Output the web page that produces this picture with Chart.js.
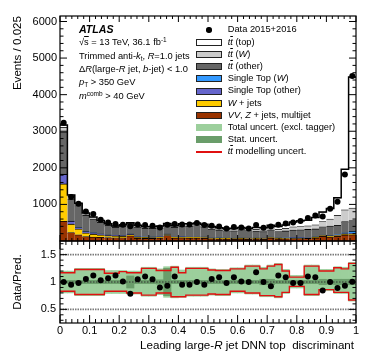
<!DOCTYPE html>
<html><head><meta charset="utf-8">
<script src="https://cdn.jsdelivr.net/npm/chart.js@4.4.1/dist/chart.umd.min.js"></script>
<style>
html,body{margin:0;padding:0;background:#fff;}
#wrap{position:relative;width:374px;height:359px;overflow:hidden;font-family:"Liberation Sans",Arial,Helvetica,sans-serif;color:#000;background:#fff;}
canvas{position:absolute;left:0;top:0;}
.t{position:absolute;white-space:pre;line-height:1;}
.ob{text-decoration:overline;}
.sub{font-size:0.7em;position:relative;top:0.35em;}
.sup{font-size:0.7em;position:relative;top:-0.45em;}
.sw{position:absolute;box-sizing:border-box;}
</style></head>
<body><div id="wrap">
<canvas id="cTop" width="374" height="359"></canvas>
<canvas id="cRat" width="374" height="359"></canvas>
<div id="ann"></div>
</div>
<script>
// ---------- bins (categories) ----------
const binEdges = Array.from({length: 41}, (_, i) => +(i * 0.025).toFixed(3));
const binCenters = binEdges.slice(0, 40).map((e, i) => (e + binEdges[i + 1]) / 2);

// ---------- top panel series (events / bin) ----------
const dataEvents = [3230,1200,1016,807,735,580,507,463,445,400, 452,436,417,371,444,463,452,452,490,436, 417,398,343,381,371,343,436,362,398,444, 480,507,545,627,698,670,880,1070,1820,4510];
const vvzMulti = [540,230,170,120,110,100,95,90,90,140, 75,70,70,80,150,80,85,80,80,75, 60,55,55,50,55,50,55,50,80,55, 60,65,65,70,80,130,110,130,160,170];
const wJets = [1020,230,155,95,75,60,50,45,40,35, 30,28,25,25,25,22,22,22,22,20, 18,18,16,16,15,15,15,15,15,15, 15,16,16,16,17,18,20,20,22,25];
const singleTopOther = [260,80,45,45,35,30,25,20,20,15, 15,14,14,13,12,12,12,12,12,12, 10,10,10,10,10,10,10,10,10,10, 10,10,10,10,12,12,15,18,20,20];
const singleTopW = [10,5,5,3,3,2,2,2,2,2, 2,2,2,2,2,2,2,2,2,2, 2,2,2,2,2,2,2,2,2,2, 2,2,2,2,2,4,6,10,30,50];
const ttOther = [1150,605,590,437,377,318,258,218,248,258, 258,236,236,238,238,258,288,293,308,278, 238,213,198,198,203,183,188,178,198,178, 188,208,213,218,219,226,259,252,298,295];
const ttW = [130,70,45,40,35,35,30,25,28,30, 30,28,30,30,30,30,35,35,38,38, 36,35,35,37,40,40,48,50,60,60, 70,85,90,100,110,140,190,270,320,340];
const ttTop = [60,40,25,25,20,18,14,13,16,18, 18,18,18,20,20,21,26,26,28,30, 31,32,34,37,42,43,52,57,67,76, 95,131,160,154,200,263,285,480,1110,3580];

// ---------- ratio panel series ----------
const ratio = [1.0,0.95,0.98,1.055,1.12,1.03,1.07,1.12,1.01,0.785, 1.05,1.10,1.05,0.90,0.93,1.10,0.95,0.95,1.0,0.95, 1.055,1.085,0.98,1.085,1.01,1.0,1.18,1.0,0.92,1.12, 1.085,0.98,0.98,1.10,1.085,0.845,1.0,0.89,0.93,1.005];
const statErr = [0.02,0.03,0.03,0.03,0.03,0.03,0.03,0.03,0.03,0.11, 0.03,0.03,0.03,0.04,0.25,0.03,0.03,0.03,0.03,0.03, 0.03,0.03,0.03,0.03,0.03,0.03,0.03,0.05,0.05,0.03, 0.03,0.03,0.03,0.03,0.03,0.05,0.04,0.05,0.05,0.05];
const totUp = [1.20,1.20,1.25,1.25,1.25,1.25,1.21,1.21,1.21,1.20, 1.20,1.27,1.27,1.24,1.28,1.29,1.22,1.27,1.27,1.27, 1.24,1.23,1.23,1.26,1.26,1.31,1.31,1.27,1.31,1.34, 1.23,1.12,1.12,1.31,1.31,1.23,1.23,1.28,1.27,1.36];
const totDn = [0.80,0.80,0.75,0.75,0.75,0.75,0.79,0.79,0.79,0.78, 0.78,0.74,0.74,0.77,0.72,0.71,0.72,0.74,0.74,0.74, 0.76,0.75,0.75,0.80,0.80,0.78,0.78,0.73,0.73,0.71, 0.79,0.89,0.89,0.75,0.75,0.84,0.84,0.79,0.79,0.65];
const modUp = [1.17,1.17,1.23,1.23,1.23,1.23,1.16,1.16,1.19,1.17, 1.17,1.25,1.25,1.21,1.21,1.27,1.17,1.25,1.25,1.25, 1.22,1.21,1.21,1.24,1.24,1.29,1.29,1.24,1.29,1.32, 1.20,1.09,1.09,1.29,1.29,1.20,1.20,1.26,1.24,1.34];
const modDn = [0.83,0.83,0.77,0.77,0.77,0.77,0.83,0.83,0.83,0.80, 0.80,0.76,0.76,0.80,0.80,0.73,0.73,0.76,0.76,0.76, 0.78,0.77,0.77,0.83,0.83,0.80,0.80,0.75,0.75,0.73, 0.81,0.92,0.92,0.77,0.77,0.86,0.86,0.81,0.81,0.67];

// ---------- ticks ----------
const xTicks = [0,0.1,0.2,0.3,0.4,0.5,0.6,0.7,0.8,0.9,1];
const xTickLabels = ['0','0.1','0.2','0.3','0.4','0.5','0.6','0.7','0.8','0.9','1'];
const yTopTicks = [1000,2000,3000,4000,5000,6000];
const yTopTickLabels = ['1000','2000','3000','4000','5000','6000'];
const yRatTicks = [0.5,1,1.5];
const yRatTickLabels = ['0.5','1','1.5'];

// ---------- styling ----------
const FONT = '"Liberation Sans", Arial, Helvetica, sans-serif';
Chart.defaults.font.family = FONT;
Chart.defaults.color = '#000';

const components = [
  {label:'VV, Z + jets, multijet', data: vvzMulti, color:'#993300'},
  {label:'W + jets', data: wJets, color:'#ffcc00'},
  {label:'Single Top (other)', data: singleTopOther, color:'#6666cc'},
  {label:'Single Top (W)', data: singleTopW, color:'#3399ff'},
  {label:'tt (other)', data: ttOther, color:'#666666'},
  {label:'tt (W)', data: ttW, color:'#cccccc'},
  {label:'tt (top)', data: ttTop, color:'#ffffff'}
];
const COL_TOT = '#9ccf9c', COL_STAT = '#6a9d6a', COL_MOD = '#e01010';

function stepPoints(vals) {
  const pts = [];
  vals.forEach((v, i) => { pts.push({x: binEdges[i], y: v}); pts.push({x: binEdges[i + 1], y: v}); });
  return pts;
}
const stackTotal = binCenters.map((_, i) => components.reduce((s, c) => s + c.data[i], 0));

const frameTicks = {
  id: 'frameTicks',
  afterDatasetsDraw(chart, args, o) {
    const {ctx, chartArea: a} = chart;
    const xs = chart.scales.x, ys = chart.scales.y;
    ctx.save();
    ctx.strokeStyle = '#000';
    ctx.lineWidth = 1;
    ctx.beginPath();
    const nx = Math.round((o.xMax - o.xMin) / o.xMinor);
    for (let i = 0; i <= nx; i++) {
      const px = xs.getPixelForValue(o.xMin + i * o.xMinor);
      const len = (i % o.xEvery === 0) ? o.xMajLen : o.xMinLen;
      ctx.moveTo(px, a.bottom); ctx.lineTo(px, a.bottom - len);
      ctx.moveTo(px, a.top); ctx.lineTo(px, a.top + len);
    }
    const ny = Math.floor((o.yMax - o.yMin) / o.yMinor + 1e-6);
    for (let i = 0; i <= ny; i++) {
      const py = ys.getPixelForValue(o.yMin + i * o.yMinor);
      if (py < a.top + 0.5 || py > a.bottom - 0.5) continue;
      const len = ((i + o.yOff) % o.yEvery === 0) ? o.yMajLen : o.yMinLen;
      ctx.moveTo(a.left, py); ctx.lineTo(a.left + len, py);
      ctx.moveTo(a.right, py); ctx.lineTo(a.right - len, py);
    }
    ctx.stroke();
    ctx.lineWidth = 1.2;
    ctx.strokeRect(a.left, a.top, a.right - a.left, a.bottom - a.top);
    ctx.restore();
  }
};
const refLines = {
  id: 'refLines',
  beforeDatasetsDraw(chart, args, o) {
    const {ctx, chartArea: a} = chart;
    const ys = chart.scales.y;
    ctx.save();
    ctx.strokeStyle = '#7a7a7a'; ctx.lineWidth = 1.6; ctx.setLineDash([1.5, 1]);
    o.values.forEach(v => {
      const py = ys.getPixelForValue(v);
      ctx.beginPath(); ctx.moveTo(a.left, py); ctx.lineTo(a.right, py); ctx.stroke();
    });
    ctx.restore();
  }
};

// ---------- top chart ----------
const barDatasets = components.map(c => ({
  type: 'bar', label: c.label,
  data: c.data.map((v, i) => ({x: binCenters[i], y: v})),
  backgroundColor: c.color, borderColor: '#000',
  borderWidth: {top: 0.8, left: 0, right: 0, bottom: 0},
  barPercentage: 1, categoryPercentage: 1, stack: 'mc', order: 10
}));
new Chart(document.getElementById('cTop'), {
  type: 'bar',
  data: {datasets: [
    ...barDatasets,
    {type: 'line', label: 'outline', data: stepPoints(stackTotal), borderColor: '#000', borderWidth: 1.5,
     pointRadius: 0, fill: false, tension: 0, stack: 'outline', order: 5},
    {type: 'scatter', label: 'Data 2015+2016', data: dataEvents.map((v, i) => ({x: binCenters[i], y: v})),
     pointRadius: 3, pointBackgroundColor: '#000', pointBorderWidth: 0, stack: 'data', order: 1}
  ]},
  options: {
    responsive: false, animation: false, events: [],
    layout: {padding: {top: 16, right: 18, bottom: 118, left: 0}},
    plugins: {legend: {display: false}, tooltip: {enabled: false},
      frameTicks: {xMin: 0, xMax: 1, xMinor: 0.02, xEvery: 5, xMajLen: 6, xMinLen: 3,
                   yMin: 0, yMax: 6150, yMinor: 200, yEvery: 5, yOff: 0, yMajLen: 7, yMinLen: 3.5}},
    scales: {
      x: {type: 'linear', min: 0, max: 1, offset: false, display: false, stacked: true},
      y: {type: 'linear', min: 0, max: 6150, stacked: true,
          grid: {display: false, drawTicks: false}, border: {display: false},
          afterBuildTicks: s => { s.ticks = yTopTicks.map(v => ({value: v})); },
          ticks: {font: {size: 11}, padding: 3, color: '#000', callback: (v, i) => yTopTickLabels[i]},
          title: {display: true, text: 'Events / 0.025', align: 'end', color: '#000', font: {size: 11.6}, padding: {top: 11, bottom: 0}},
          afterFit: s => { s.width = 60; }}
    }
  },
  plugins: [frameTicks]
});

// ---------- ratio chart ----------
new Chart(document.getElementById('cRat'), {
  type: 'bar',
  data: {datasets: [
    {type: 'bar', label: 'Total uncert. (excl. tagger)', data: binCenters.map((c, i) => ({x: c, y: [totDn[i], totUp[i]]})),
     backgroundColor: COL_TOT, borderWidth: 0, barPercentage: 1, categoryPercentage: 1, grouped: false, order: 6},
    {type: 'bar', label: 'Stat. uncert.', data: binCenters.map((c, i) => ({x: c, y: [1 - statErr[i], 1 + statErr[i]]})),
     backgroundColor: COL_STAT, borderWidth: 0, barPercentage: 1, categoryPercentage: 1, grouped: false, order: 5},
    {type: 'line', label: 'tt modelling uncert.', data: stepPoints(modUp), borderColor: COL_MOD, borderWidth: 1.4, pointRadius: 0, fill: false, tension: 0, order: 4},
    {type: 'line', label: 'tt modelling uncert. (down)', data: stepPoints(modDn), borderColor: COL_MOD, borderWidth: 1.4, pointRadius: 0, fill: false, tension: 0, order: 4},
    {type: 'line', label: 'unity', data: [{x: 0, y: 1}, {x: 1, y: 1}], borderColor: '#333', borderWidth: 1, borderDash: [1.5, 1.5], pointRadius: 0, fill: false, order: 3},
    {type: 'scatter', label: 'Data/Pred.', data: ratio.map((v, i) => ({x: binCenters[i], y: v})),
     pointRadius: 3, pointBackgroundColor: '#000', pointBorderWidth: 0, order: 1}
  ]},
  options: {
    responsive: false, animation: false, events: [],
    layout: {padding: {top: 241, right: 18, bottom: 0, left: 0}},
    plugins: {legend: {display: false}, tooltip: {enabled: false},
      refLines: {values: [0.5, 1.5]},
      frameTicks: {xMin: 0, xMax: 1, xMinor: 0.02, xEvery: 5, xMajLen: 8, xMinLen: 4,
                   yMin: 0.3, yMax: 1.75, yMinor: 0.1, yEvery: 5, yOff: 3, yMajLen: 7, yMinLen: 3.5}},
    scales: {
      x: {type: 'linear', min: 0, max: 1, offset: false,
          grid: {display: false, drawTicks: false}, border: {display: false},
          afterBuildTicks: s => { s.ticks = xTicks.map(v => ({value: v})); },
          ticks: {font: {size: 11}, padding: 1, maxRotation: 0, autoSkip: false, color: '#000', callback: (v, i) => xTickLabels[i]},
          afterFit: s => { s.height = 36; }},
      y: {type: 'linear', min: 0.25, max: 1.75,
          grid: {display: false, drawTicks: false}, border: {display: false},
          afterBuildTicks: s => { s.ticks = yRatTicks.map(v => ({value: v})); },
          ticks: {font: {size: 11}, padding: 4, color: '#000', callback: (v, i) => yRatTickLabels[i]},
          title: {display: true, text: 'Data/Pred.', align: 'center', color: '#000', font: {size: 11.6}, padding: {top: 11, bottom: 0}},
          afterFit: s => { s.width = 60; }}
    }
  },
  plugins: [refLines, frameTicks]
});

// ---------- HTML text: ATLAS label, legend, x title ----------
const ann = document.getElementById('ann');
function addText(html, left, cy, size, style) {
  const d = document.createElement('div');
  d.className = 't';
  d.innerHTML = html;
  d.style.left = left + 'px';
  d.style.top = (cy - 0.49 * size) + 'px';
  d.style.fontSize = size + 'px';
  if (style) Object.assign(d.style, style);
  ann.appendChild(d);
  return d;
}
const TT = '<i>t</i><i class="ob">t</i>';
const atlasLines = [
  {html: '√<span class="ob">s</span> = 13 TeV, 36.1 fb<span class="sup">-1</span>', cy: 42.3},
  {html: 'Trimmed anti-<i>k</i><span class="sub">t</span>, <i>R</i>=1.0 jets', cy: 56.7},
  {html: 'Δ<i>R</i>(large-<i>R</i> jet, <i>b</i>-jet) &lt; 1.0', cy: 70},
  {html: '<i>p</i><span class="sub">T</span> &gt; 350 GeV', cy: 82.7},
  {html: '<i>m</i><span class="sup">comb</span> &gt; 40 GeV', cy: 96.7}
];
addText('ATLAS', 79, 29.3, 10.6, {fontWeight: 'bold', fontStyle: 'italic'});
atlasLines.forEach(l => addText(l.html, 79, l.cy, 9.3));

const legendItems = [
  {html: 'Data 2015+2016', kind: 'marker'},
  {html: TT + ' (top)', kind: 'box', color: components[6].color},
  {html: TT + ' (<i>W</i>)', kind: 'box', color: components[5].color},
  {html: TT + ' (other)', kind: 'box', color: components[4].color},
  {html: 'Single Top (<i>W</i>)', kind: 'box', color: components[3].color},
  {html: 'Single Top (other)', kind: 'box', color: components[2].color},
  {html: '<i>W</i> + jets', kind: 'box', color: components[1].color},
  {html: '<i>VV</i>, <i>Z</i> + jets, multijet', kind: 'box', color: components[0].color},
  {html: 'Total uncert. (excl. tagger)', kind: 'fill', color: COL_TOT},
  {html: 'Stat. uncert.', kind: 'fill', color: COL_STAT},
  {html: TT + ' modelling uncert.', kind: 'line', color: COL_MOD}
];
legendItems.forEach((it, k) => {
  const cy = 30 + k * 12.2;
  const s = document.createElement('div');
  s.className = 'sw';
  if (it.kind === 'marker') {
    Object.assign(s.style, {left: '206.3px', top: (cy - 2.7) + 'px', width: '5.4px', height: '5.4px', borderRadius: '50%', background: '#000'});
  } else if (it.kind === 'box') {
    Object.assign(s.style, {left: '196px', top: (cy - 3.5) + 'px', width: '26px', height: '7px', background: it.color, border: '1px solid #222'});
  } else if (it.kind === 'fill') {
    Object.assign(s.style, {left: '196px', top: (cy - 3.5) + 'px', width: '26px', height: '7px', background: it.color});
  } else {
    Object.assign(s.style, {left: '196px', top: (cy - 0.7) + 'px', width: '26px', height: '1.4px', background: it.color});
  }
  ann.appendChild(s);
  addText(it.html, 227.7, cy, 9.3);
});

const xt = addText('Leading large-<i>R</i> jet DNN top  discriminant', 0, 345, 11.6);
xt.style.left = ''; xt.style.right = '20px';
</script>
</body></html>
